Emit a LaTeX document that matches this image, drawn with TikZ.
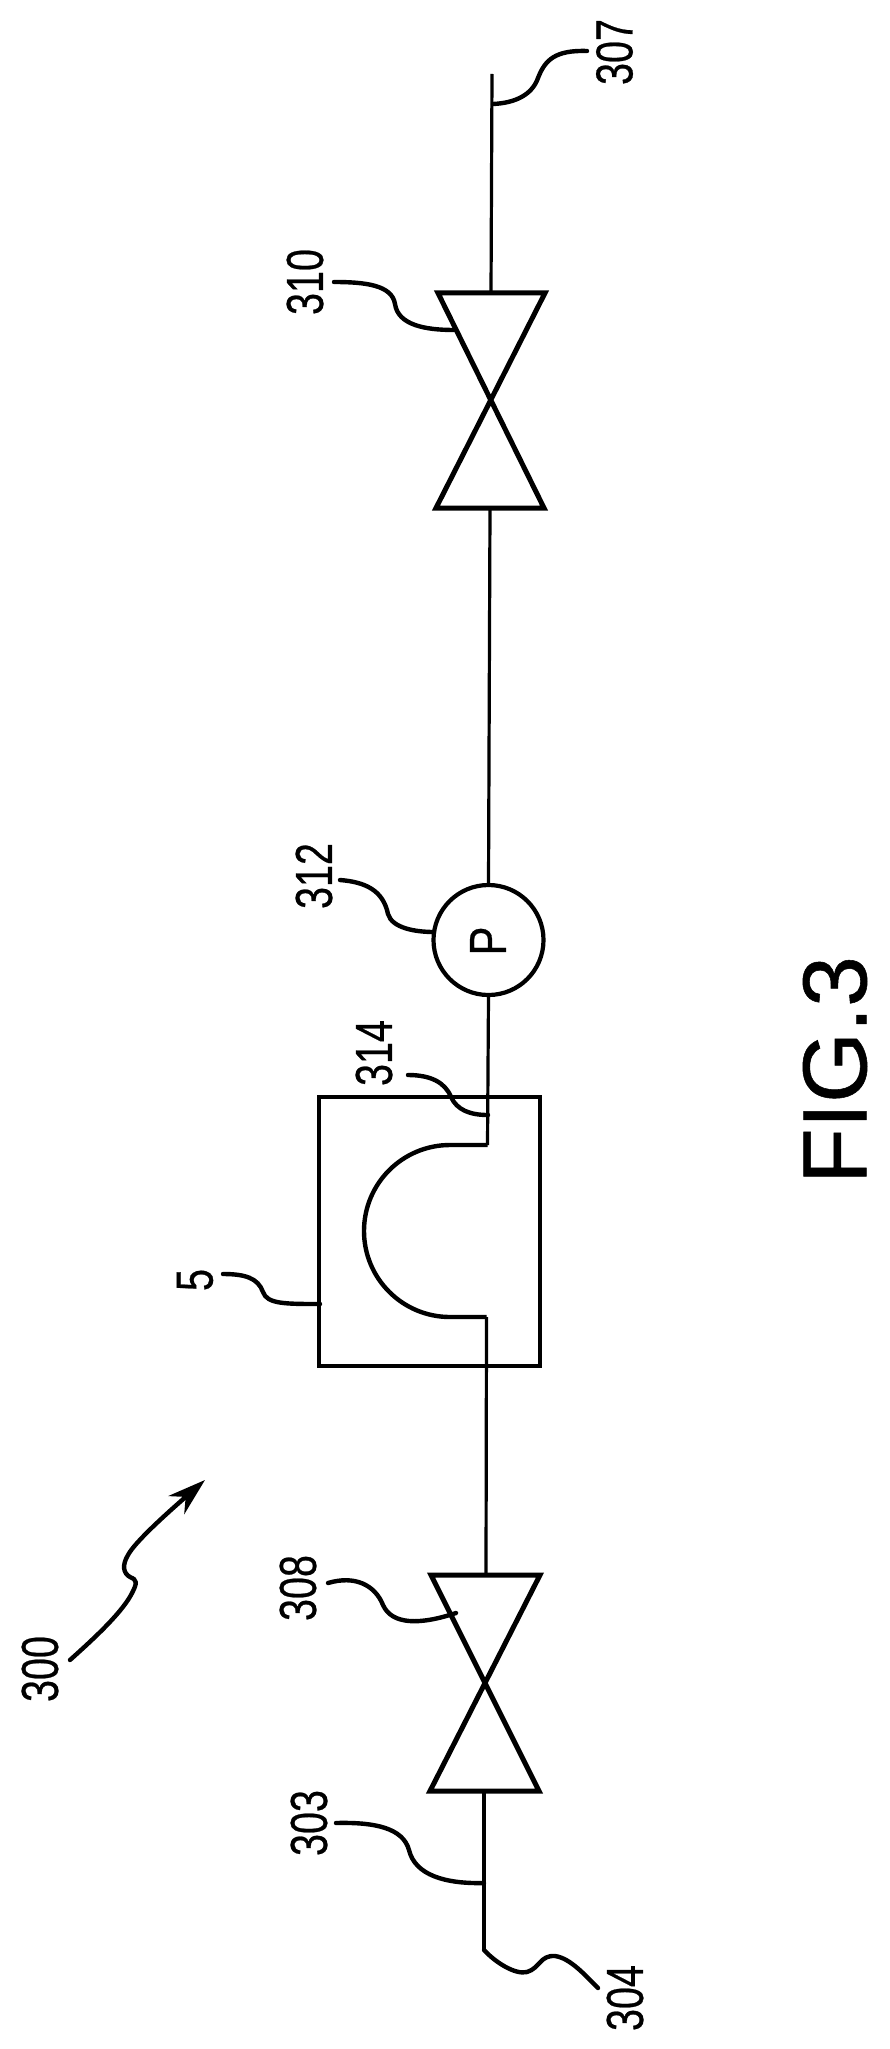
\documentclass[tikz,border=0pt]{standalone}
\usepackage{fontspec}
\setmainfont[FakeBold=0.6]{Liberation Sans}
\usetikzlibrary{arrows.meta}
\begin{document}
\begin{tikzpicture}[x=1pt,y=-1pt,
  pipe/.style={line width=3.2pt},
  ubend/.style={line width=4.4pt,line join=miter},
  valvebody/.style={line width=5pt,line join=miter},
  leader/.style={line width=4.4pt,line cap=round},
  reflabel/.style={inner sep=0pt,rotate=90,xscale=.76,font=\fontsize{52}{52}\selectfont},
  figlabel/.style={inner sep=0pt,rotate=90,font=\fontsize{91}{91}\selectfont},
  pumpbody/.style={circle,draw,line width=4.2pt,minimum size=110pt,inner sep=0pt,outer sep=0pt},
  boxbody/.style={rectangle,draw,line width=4pt,minimum width=221pt,minimum height=269pt,inner sep=0pt,outer sep=0pt}]
\useasboundingbox (0,0) rectangle (889,2049);
% coordinates on the line
\coordinate (top) at (492,74);
\coordinate (vAin) at (491,293);
\coordinate (vAout) at (490,508);
\coordinate (vBin) at (486,1575);
\coordinate (vBout) at (484,1791);
\coordinate (bottom) at (484,1950);
\coordinate (uIn) at (487.5,1145);
\coordinate (uOut) at (486.5,1317);
% device nodes
\node[boxbody] (box) at (429.5,1231.5) {};
\node[pumpbody] (pump) at (488.5,940) {};
\node[reflabel,xscale=1.1] (pumpP) at (488,941) {P};
% valves
\draw[valvebody] (438,293) -- (545,293) -- (436,508) -- (544,508) -- cycle;
\draw[valvebody] (431,1575) -- (540,1575) -- (430,1791) -- (539,1791) -- cycle;
% line
\draw[pipe] (top) -- (vAin);
\draw[pipe] (vAout) -- (pump.north);
\draw[pipe] (pump.south) -- (uIn);
\draw[ubend] (uIn) -- (450,1145) arc[start angle=90,end angle=270,radius=86pt] -- (uOut);
\draw[pipe] (uOut) -- (vBin);
\draw[pipe] (vBout) -- (bottom);
% labels
\node[reflabel] (n307) at (614.5,52) {307};
\node[reflabel] (n310) at (305,282) {310};
\node[reflabel] (n312) at (314,876) {312};
\node[reflabel] (n314) at (374,1053) {314};
\node[reflabel] (n5) at (195,1280) {5};
\node[reflabel] (n300) at (40,1669) {300};
\node[reflabel] (n308) at (298,1588) {308};
\node[reflabel] (n303) at (309,1823) {303};
\node[reflabel] (n304) at (625,1998) {304};
\node[figlabel] (fig) at (835,1070) {FIG.3};
% leaders
\coordinate (t307) at (493,104);
\coordinate (t310) at (454,330);
\coordinate (t312) at (434,932);
\coordinate (t314) at (488,1115);
\coordinate (t5) at (320,1304);
\coordinate (t308) at (456,1613);
\coordinate (t303) at (484,1883);
\coordinate (t300) at (205,1480);
\draw[leader] (587,51) .. controls (555,50) and (545,60) .. (538,78) .. controls (532,95) and (515,103) .. (t307);
\draw[leader] (334,282) .. controls (365,282) and (392,285) .. (395,304) .. controls (398,325) and (425,330) .. (t310);
\draw[leader] (340,880) .. controls (365,882) and (383,890) .. (388,914) .. controls (392,928) and (415,932) .. (t312);
\draw[leader] (408,1075) .. controls (430,1075) and (445,1082) .. (451,1097) .. controls (457,1110) and (470,1115) .. (t314);
\draw[leader] (223,1274) .. controls (245,1274) and (258,1278) .. (263,1292) .. controls (267,1304) and (285,1304) .. (t5);
\draw[leader] (328,1583) .. controls (355,1575) and (375,1585) .. (383,1605) .. controls (392,1625) and (420,1625) .. (t308);
\draw[leader] (336,1823) .. controls (375,1822) and (403,1828) .. (409,1850) .. controls (415,1875) and (445,1884) .. (t303);
\draw[leader] (bottom) .. controls (495,1962) and (515,1975) .. (527,1972) .. controls (540,1968) and (540,1955) .. (555,1956) .. controls (570,1958) and (585,1975) .. (598,1988);
\draw[leader,-{Stealth[length=38pt,width=24pt]}] (70,1660) .. controls (90,1642) and (120,1615) .. (131,1595) .. controls (138,1582) and (137,1580) .. (130,1577) .. controls (123,1573) and (122,1565) .. (128,1555) .. controls (135,1542) and (165,1515) .. (t300);
\end{tikzpicture}
\end{document}
